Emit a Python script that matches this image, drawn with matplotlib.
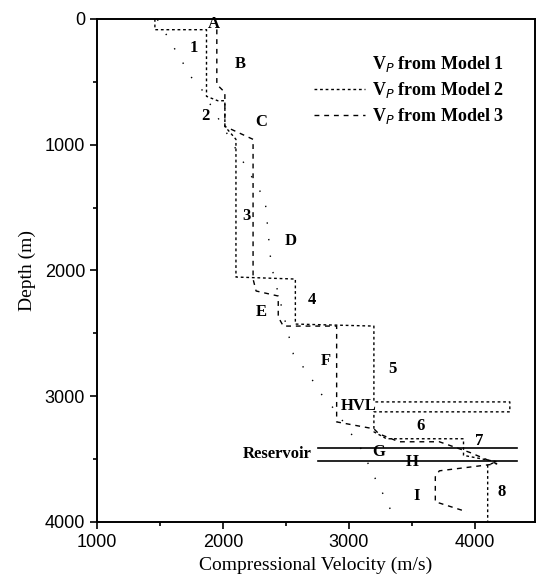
import matplotlib.pyplot as plt
from matplotlib.ticker import MultipleLocator

# velocity (m/s) / depth (m)
m1_vel = [1480, 1760, 1800, 2336, 2384, 2560, 2680, 2792, 2904, 3104, 3184, 3312, 3368]
m1_dep = [4, 480, 504, 1441, 1957, 2664, 2823, 2997, 3124, 3426, 3601, 3855, 3990]

m2_vel = [1460, 1460, 1870, 1870, 1960, 2016, 2016, 2104, 2104, 2576, 2576, 3200, 3200,
          4280, 4280, 3200, 3200, 3300, 3912, 3912, 4170, 4104, 4104]
m2_dep = [0, 85, 85, 615, 650, 650, 854, 957, 2052, 2068, 2426, 2442, 3045,
          3045, 3124, 3124, 3283, 3338, 3338, 3470, 3520, 3550, 4000]

m3_vel = [1952, 1952, 2016, 2016, 2240, 2240, 2264, 2440, 2440, 2480, 2904, 2904,
          3200, 3240, 3400, 3720, 3960, 4176, 3720, 3688, 3688, 3936]
m3_dep = [83, 520, 584, 854, 957, 2068, 2163, 2203, 2370, 2442, 2442, 3204,
          3259, 3299, 3362, 3362, 3446, 3537, 3593, 3640, 3839, 3918]

labels = ['A', '1', 'B', '2', 'C', '3', 'D', '4', 'E', 'F', '5', 'HVL',
          '6', '7', 'G', 'H', 'I', '8']
label_vel = [1925, 1768, 2136, 1864, 2304, 2184, 2536, 2704, 2304, 2816, 3344, 3080,
             3568, 4040, 3240, 3504, 3536, 4216]
label_dep = [40, 234, 361, 774, 822, 1568, 1767, 2235, 2330, 2719, 2783, 3077,
             3236, 3355, 3442, 3521, 3791, 3760]

reservoir_top, reservoir_base = 3410, 3513
reservoir_vel = [2752, 4336]

fig = plt.figure(figsize=(5.37, 5.83), dpi=100)
ax = fig.add_axes([97 / 537, 61 / 583, 438 / 537, 503 / 583])

ax.plot(m1_vel, m1_dep, color='black', lw=1.0, ls=(0, (1, 11)), label='V$_P$ from Model 1')
ax.plot(m2_vel, m2_dep, color='black', lw=1.0, ls=(0, (2, 2)), label='V$_P$ from Model 2')
ax.plot(m3_vel, m3_dep, color='black', lw=1.0, ls=(0, (3.5, 3.5)), label='V$_P$ from Model 3')

# reservoir interval
for d in (reservoir_top, reservoir_base):
    ax.plot(reservoir_vel, [d, d], color='black', lw=1.2)
ax.text(2704, (reservoir_top + reservoir_base) / 2, 'Reservoir', ha='right', va='center',
        fontsize=12, fontweight='bold', family='Liberation Serif')

for t, v, d in zip(labels, label_vel, label_dep):
    ax.text(v, d, t, ha='center', va='center', fontsize=12, fontweight='bold',
            family='Liberation Serif')

ax.set_xlim(1000, 4480)
ax.set_ylim(4000, 0)
ax.xaxis.set_major_locator(MultipleLocator(1000))
ax.xaxis.set_minor_locator(MultipleLocator(500))
ax.yaxis.set_major_locator(MultipleLocator(1000))
ax.yaxis.set_minor_locator(MultipleLocator(500))
ax.tick_params(which='both', direction='out', top=False, right=False, labelsize=13, width=1.2)
ax.tick_params(which='major', length=5)
ax.tick_params(which='minor', length=3)
for lab in ax.get_xticklabels() + ax.get_yticklabels():
    lab.set_family('Liberation Sans')
for s in ax.spines.values():
    s.set_linewidth(1.4)

ax.set_xlabel('Compressional Velocity (m/s)', fontsize=14, family='Liberation Serif', labelpad=4)
ax.set_ylabel('Depth (m)', fontsize=14, family='Liberation Serif', labelpad=6)

leg = ax.legend(loc='upper right', bbox_to_anchor=(0.966, 0.962), frameon=False,
                handlelength=2.8, handletextpad=0.4, labelspacing=0.33,
                prop={'family': 'Liberation Serif', 'weight': 'bold', 'size': 13})
# the scanned legend shows no sample for model 1
leg.legend_handles[0].set_visible(False)

fig.savefig('out.png', dpi=100)
